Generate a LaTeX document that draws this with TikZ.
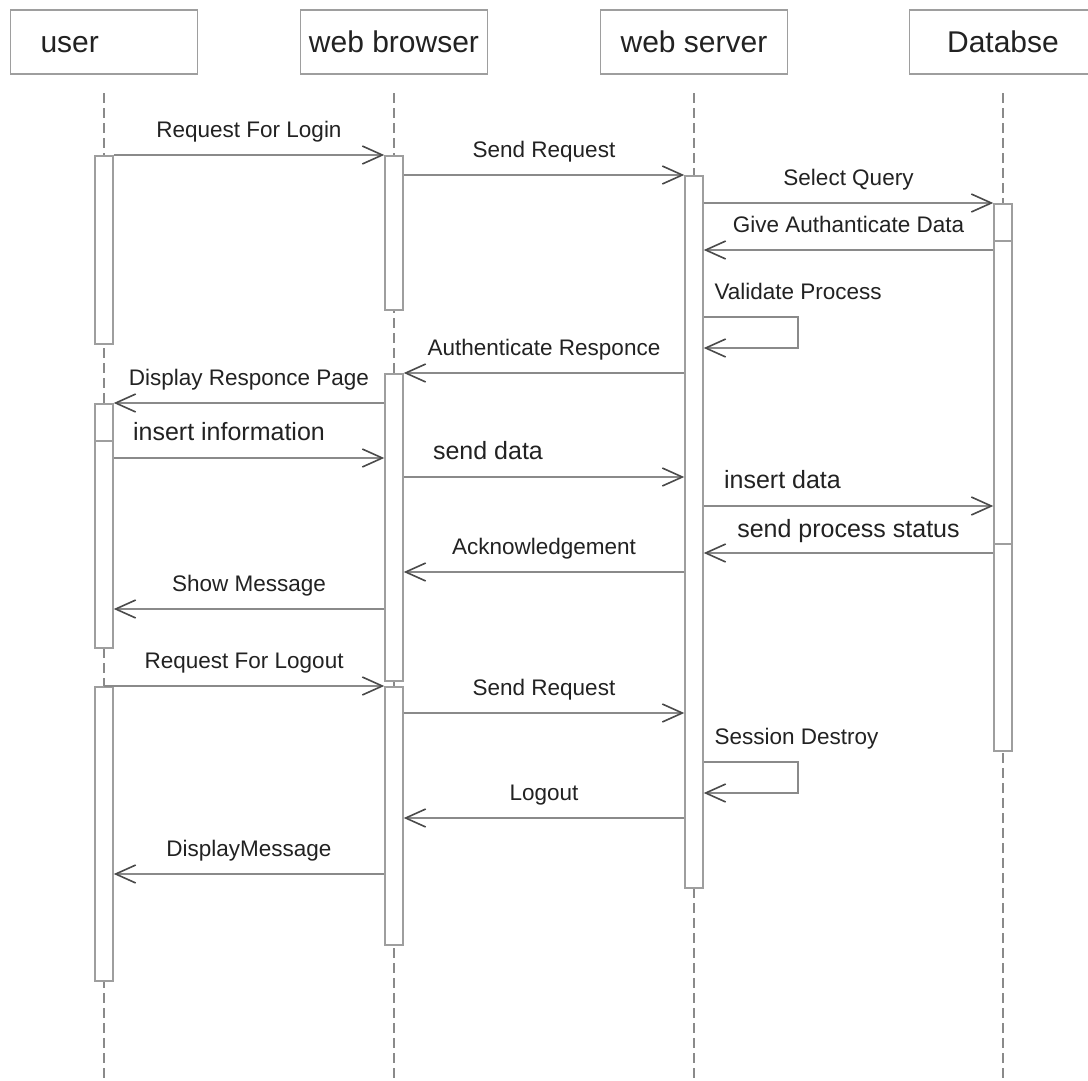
\documentclass[tikz,border=0pt]{standalone}
\usepackage{fontspec}
\setmainfont{Liberation Sans}
\usetikzlibrary{arrows.meta,positioning}
\definecolor{linegray}{HTML}{8A8A8A}
\definecolor{boxgray}{HTML}{9E9E9E}
\definecolor{tipgray}{HTML}{4A4A4A}
\definecolor{txtgray}{HTML}{222222}
\newcommand{\msgfont}{\fontsize{22.5}{27}\selectfont}
\newcommand{\bigmsgfont}{\fontsize{25}{30}\selectfont}
\newcommand{\headfont}{\fontsize{30}{36}\selectfont}

\begin{document}
\begin{tikzpicture}[x=1pt, y=-1pt,
  >={Straight Barb[length=20pt, width=18pt, line width=1.6pt, color=tipgray]},
  head/.style={draw=boxgray, line width=1.5pt, minimum width=187pt, minimum height=64pt, font=\headfont, text=txtgray},
  life/.style={draw=linegray, line width=1.2pt, dash pattern=on 10pt off 5pt},
  bar/.style={draw=boxgray, fill=white, line width=1.5pt, minimum width=18pt, inner sep=0pt, anchor=north},
  msg/.style={draw=linegray, line width=1.5pt, ->},
  lbl/.style={font=\msgfont, text=txtgray, inner sep=0pt, text height=16pt, text depth=5pt},
  biglbl/.style={lbl, font=\bigmsgfont, text height=18pt, text depth=5pt}]

\useasboundingbox[fill=white] (0,0) rectangle (1088,1080);

% lifeline heads
\node[head, inner xsep=30pt, text width=127pt, align=left, text height=22pt, text depth=2pt] (u) at (104,42) {user};
\node[head] (b) at (394,42) {web browser};
\node[head] (s) at (694,42) {web server};
\node[head] (d) at (1003,42) {Databse};

\foreach \n in {u,b,s,d}
  \draw[life] (\n.south |- 0,93) -- (\n.south |- 0,1080);

% activation bars
\node[bar, minimum height=188pt] (u1) at (104,155) {};
\node[bar, minimum height=37pt] (u2) at (104,403) {};
\node[bar, minimum height=207pt] (u3) at (104,440) {};
\node[bar, minimum height=294pt] (u4) at (104,686) {};
\node[bar, minimum height=154pt] (b1) at (394,155) {};
\node[bar, minimum height=307pt] (b2) at (394,373) {};
\node[bar, minimum height=258pt] (b3) at (394,686) {};
\node[bar, minimum height=712pt] (s1) at (694,175) {};
\node[bar, minimum height=37pt] (d1) at (1003,203) {};
\node[bar, minimum height=303pt] (d2) at (1003,240) {};
\node[bar, minimum height=207pt] (d3) at (1003,543) {};

% login
\draw[msg] (u1.north east) -- node[above=12pt, lbl] {Request For Login} (b1.north west);
\draw[msg] (b1.east |- 0,175) -- node[above=12pt, lbl] {Send Request} (s1.north west);
\draw[msg] (s1.east |- 0,203) -- node[above=12pt, lbl] {Select Query} (d1.north west);
\draw[msg] (d2.west |- 0,250) -- node[above=12pt, lbl] {Give Authanticate Data} (s1.east |- 0,250);
\draw[msg] (s1.east |- 0,317) node[above right=12pt and 10pt, lbl] {Validate Process}
  -- ++(94,0) -- ++(0,31) -- (s1.east |- 0,348);
\draw[msg] (s1.west |- 0,373) -- node[above=12pt, lbl] {Authenticate Responce} (b2.north east);
\draw[msg] (b2.west |- 0,403) -- node[above=12pt, lbl] {Display Responce Page} (u2.north east);

% data
\draw[msg] (u3.east |- 0,458) -- node[above=12pt, xshift=-20pt, biglbl] {insert information} (b2.west |- 0,458);
\draw[msg] (b2.east |- 0,477) -- node[above=12pt, xshift=-56pt, biglbl] {send data} (s1.west |- 0,477);
\draw[msg] (s1.east |- 0,506) -- node[above=12pt, xshift=-66pt, biglbl] {insert data} (d2.west |- 0,506);
\draw[msg] (d3.west |- 0,553) -- node[above=10pt, biglbl] {send process status} (s1.east |- 0,553);
\draw[msg] (s1.west |- 0,572) -- node[above=12pt, lbl] {Acknowledgement} (b2.east |- 0,572);
\draw[msg] (b2.west |- 0,609) -- node[above=12pt, lbl] {Show Message} (u3.east |- 0,609);

% logout
\draw[msg] (u4.north) -- node[above=12pt, lbl] {Request For Logout} (b3.north west);
\draw[msg] (b3.east |- 0,713) -- node[above=12pt, lbl] {Send Request} (s1.west |- 0,713);
\draw[msg] (s1.east |- 0,762) node[above right=12pt and 10pt, lbl] {Session Destroy}
  -- ++(94,0) -- ++(0,31) -- (s1.east |- 0,793);
\draw[msg] (s1.west |- 0,818) -- node[above=12pt, lbl] {Logout} (b3.east |- 0,818);
\draw[msg] (b3.west |- 0,874) -- node[above=12pt, lbl] {DisplayMessage} (u4.east |- 0,874);

\end{tikzpicture}
\end{document}
